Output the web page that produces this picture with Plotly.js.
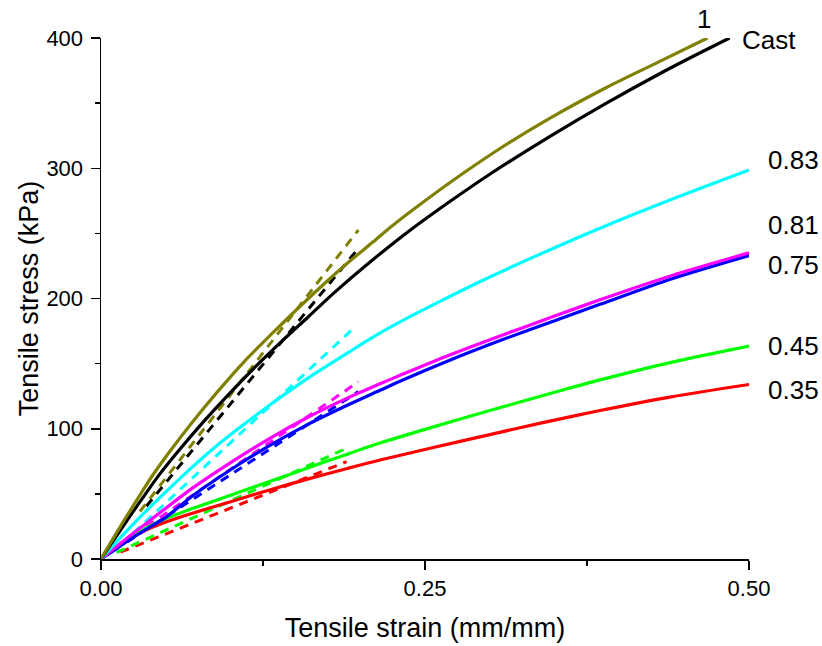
<!DOCTYPE html>
<html>
<head>
<meta charset="utf-8">
<script src="https://cdn.plot.ly/plotly-3.0.1.min.js"></script>
<style>html,body{margin:0;padding:0;background:#fff;}#chart{width:822px;height:646px;}</style>
</head>
<body>
<div id="chart"></div>
<script>
// ---- data ----
const seriesNames = ["1", "Cast", "0.83", "0.81", "0.75", "0.45", "0.35"];

const strain1 = [0, 0.01, 0.02, 0.03, 0.04, 0.0545, 0.07, 0.09, 0.11, 0.135, 0.16, 0.19, 0.21, 0.225, 0.25, 0.28, 0.31, 0.3465, 0.39, 0.43, 0.468];
const stress1 = [0, 16.8, 33.2, 49, 64.5, 84.5, 104.5, 128.5, 151, 176, 200, 227, 243.5, 256, 275, 296.5, 316.5, 338.5, 362, 381.5, 400];

const strainCast = [0, 0.01, 0.02, 0.03, 0.045, 0.061, 0.08, 0.1, 0.12, 0.1406, 0.16, 0.18, 0.2076, 0.238, 0.27, 0.3, 0.3465, 0.39, 0.43, 0.46, 0.485];
const stressCast = [0, 14.8, 29.4, 43.8, 64.8, 84.5, 106.4, 128, 148.4, 168.2, 186, 204.5, 228, 252, 275, 295.4, 324.5, 350, 372, 387.5, 400];

const strain083 = [0, 0.01, 0.02, 0.038, 0.06, 0.084, 0.1, 0.13, 0.16, 0.19, 0.2076, 0.2307, 0.26, 0.3, 0.35, 0.385, 0.44, 0.5];
const stress083 = [0, 11, 21.8, 40, 61, 82.5, 95.5, 118, 139, 158, 169, 182, 197, 216.5, 239, 254, 276, 298.6];

const strain081 = [0, 0.01, 0.02, 0.035, 0.05, 0.07, 0.1, 0.13, 0.16, 0.19, 0.2153, 0.2307, 0.27, 0.31, 0.35, 0.385, 0.44, 0.5];
const stress081 = [0, 8, 16, 27.5, 39, 54, 74, 92.5, 109, 123.5, 134.5, 141, 157, 172, 186.5, 199, 217.5, 235];

const strain075 = [0, 0.01, 0.02, 0.035, 0.05, 0.07, 0.1, 0.13, 0.16, 0.19, 0.2153, 0.2307, 0.27, 0.31, 0.35, 0.385, 0.44, 0.5];
const stress075 = [0, 6.5, 13.5, 23, 32, 48, 68.5, 87, 103.5, 118, 129.5, 136.5, 153, 168.5, 183, 195.5, 215, 233];

const strain045 = [0, 0.01, 0.02, 0.03, 0.04, 0.05, 0.07, 0.1, 0.13, 0.16, 0.19, 0.2153, 0.25, 0.3, 0.35, 0.385, 0.44, 0.5];
const stress045 = [0, 8, 15, 21, 26.5, 31, 38.5, 49, 59.5, 70, 80.5, 89, 99.5, 114, 128, 137.5, 151, 163.5];

const strain035 = [0, 0.01, 0.02, 0.03, 0.04, 0.05, 0.07, 0.1, 0.13, 0.16, 0.19, 0.2153, 0.254, 0.3, 0.34, 0.385, 0.44, 0.5];
const stress035 = [0, 8, 14.5, 20, 24.5, 28.5, 35, 44, 53, 61.5, 69.5, 76, 85, 95.5, 104.5, 114, 124.5, 134];

// linear fits (dashed), start/end points
const fitStrain1 = [0.03, 0.1986];   const fitStress1 = [36.5, 252.6];
const fitStrainCast = [0.035, 0.1986]; const fitStressCast = [40.5, 238.5];
const fitStrain083 = [0.025, 0.1947]; const fitStress083 = [20, 177];
const fitStrain081 = [0.025, 0.1986]; const fitStress081 = [18, 136];
const fitStrain075 = [0.02, 0.1986];  const fitStress075 = [13, 128.5];
const fitStrain045 = [0.012, 0.1895]; const fitStress045 = [5, 85];
const fitStrain035 = [0.015, 0.1895]; const fitStress035 = [5.3, 74.7];

const colors = ["#808000", "#000000", "#00ffff", "#ff00ff", "#0000ff", "#00ff00", "#ff0000"];

const curves = [
  [strain035, stress035, 6], [strain045, stress045, 5], [strain075, stress075, 4],
  [strain081, stress081, 3], [strain083, stress083, 2], [strainCast, stressCast, 1], [strain1, stress1, 0]
];
const fits = [
  [fitStrain035, fitStress035, 6], [fitStrain045, fitStress045, 5], [fitStrain075, fitStress075, 4],
  [fitStrain081, fitStress081, 3], [fitStrain083, fitStress083, 2], [fitStrainCast, fitStressCast, 1], [fitStrain1, fitStress1, 0]
];

const traces = [];
fits.forEach(f => traces.push({
  x: f[0], y: f[1], mode: "lines", type: "scatter", showlegend: false, hoverinfo: "skip",
  line: {color: colors[f[2]], width: 3, dash: "9px,7px"}
}));
curves.forEach(c => traces.push({
  x: c[0], y: c[1], mode: "lines", type: "scatter", name: seriesNames[c[2]], showlegend: false,
  line: {color: colors[c[2]], width: 3.2, shape: "spline", smoothing: 0.8}
}));

const FONT = "Liberation Sans, Arial, sans-serif";
const annFont = {family: FONT, size: 26, color: "#000"};
// label positions in paper fractions of the plot area
const labels = [
  {text: "1", x: 0.9305, y: 1.036, xanchor: "center"},
  {text: "Cast", x: 0.986, y: 0.996, xanchor: "left"},
  {text: "0.83", x: 1.026, y: 0.766, xanchor: "left"},
  {text: "0.81", x: 1.026, y: 0.641, xanchor: "left"},
  {text: "0.75", x: 1.026, y: 0.564, xanchor: "left"},
  {text: "0.45", x: 1.026, y: 0.409, xanchor: "left"},
  {text: "0.35", x: 1.026, y: 0.324, xanchor: "left"}
];

const layout = {
  width: 822, height: 646,
  margin: {l: 101, r: 73, t: 38, b: 87},
  paper_bgcolor: "#fff", plot_bgcolor: "#fff",
  font: {family: FONT, size: 22, color: "#000"},
  xaxis: {
    range: [0, 0.5], showgrid: false, zeroline: false,
    showline: true, linecolor: "#000", linewidth: 1.5,
    ticks: "outside", ticklen: 9, tickwidth: 1.5, tickcolor: "#000",
    tickvals: [0, 0.25, 0.5], tickformat: ".2f",
    tickfont: {family: FONT, size: 22},
    minor: {tickvals: [0.125, 0.375], ticks: "outside", ticklen: 5, tickwidth: 1.5, tickcolor: "#000", showgrid: false},
    title: {text: "Tensile strain (mm/mm)", font: {family: FONT, size: 27}, standoff: 18}
  },
  yaxis: {
    range: [0, 400], showgrid: false, zeroline: false,
    showline: true, linecolor: "#000", linewidth: 1.5,
    ticks: "outside", ticklen: 9, tickwidth: 1.5, tickcolor: "#000",
    tickvals: [0, 100, 200, 300, 400], ticklabelstandoff: 3,
    tickfont: {family: FONT, size: 22},
    minor: {tickvals: [50, 150, 250, 350], ticks: "outside", ticklen: 5, tickwidth: 1.5, tickcolor: "#000", showgrid: false},
    title: {text: "Tensile stress (kPa)", font: {family: FONT, size: 27}, standoff: 0}
  },
  annotations: labels.map(l => ({
    text: l.text, x: l.x, y: l.y, xref: "paper", yref: "paper", xanchor: l.xanchor, yanchor: "middle",
    showarrow: false, font: annFont
  }))
};

Plotly.newPlot("chart", traces, layout, {staticPlot: true, displayModeBar: false});
</script>
</body>
</html>
